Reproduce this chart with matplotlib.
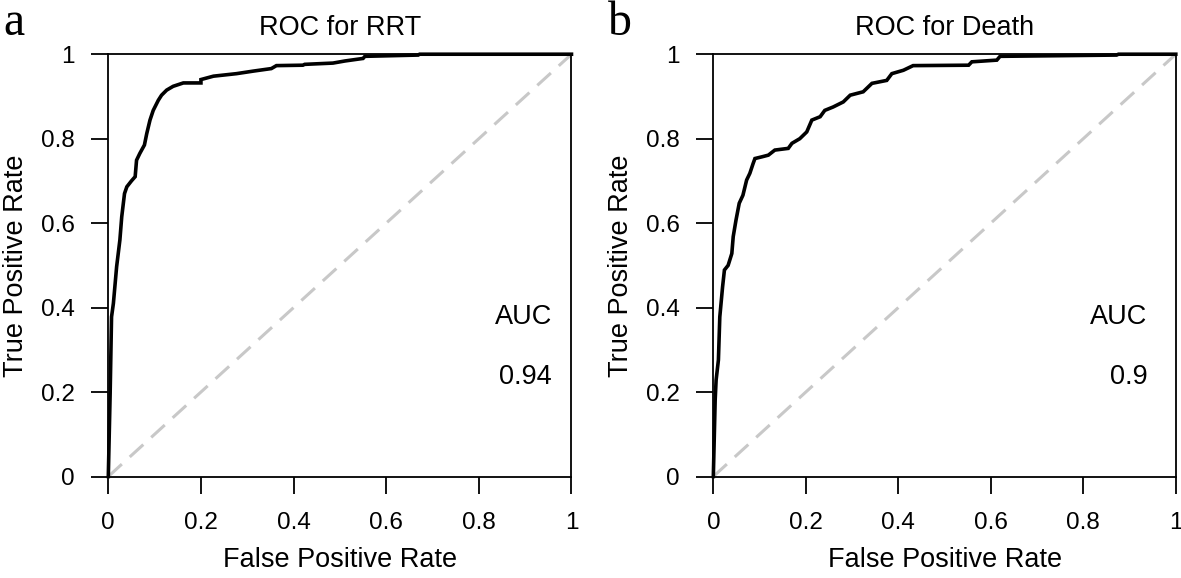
import matplotlib
matplotlib.use("Agg")
import matplotlib.pyplot as plt

plt.rcParams['font.family'] = ['Liberation Sans', 'DejaVu Sans']

# ROC for RRT
rrt_fpr = [0, 0.004, 0.007, 0.011, 0.018, 0.025, 0.029, 0.035, 0.040, 0.050, 0.058,
           0.061, 0.068, 0.078, 0.083, 0.090, 0.097, 0.108, 0.115, 0.126, 0.140,
           0.162, 0.200, 0.200, 0.227, 0.277, 0.313, 0.352, 0.363, 0.420, 0.424,
           0.485, 0.511, 0.550, 0.554, 0.669, 0.672, 1.0]
rrt_tpr = [0, 0.197, 0.378, 0.410, 0.497, 0.560, 0.615, 0.670, 0.686, 0.700, 0.710,
           0.749, 0.765, 0.785, 0.812, 0.844, 0.867, 0.891, 0.903, 0.915, 0.924,
           0.932, 0.932, 0.940, 0.948, 0.954, 0.960, 0.966, 0.973, 0.974, 0.976,
           0.979, 0.984, 0.990, 0.995, 0.998, 1.0, 1.0]

# ROC for Death
death_fpr = [0, 0.004, 0.006, 0.011, 0.014, 0.020, 0.024, 0.032, 0.040, 0.043, 0.049,
             0.056, 0.064, 0.072, 0.079, 0.086, 0.090, 0.105, 0.119, 0.133, 0.162,
             0.170, 0.187, 0.202, 0.213, 0.231, 0.241, 0.259, 0.281, 0.296, 0.324,
             0.343, 0.375, 0.386, 0.411, 0.432, 0.552, 0.559, 0.613, 0.620, 0.872,
             0.876, 1.0]
death_tpr = [0, 0.181, 0.228, 0.276, 0.378, 0.449, 0.489, 0.500, 0.528, 0.568, 0.607,
             0.647, 0.666, 0.702, 0.718, 0.741, 0.753, 0.757, 0.761, 0.773, 0.777,
             0.789, 0.800, 0.816, 0.844, 0.852, 0.867, 0.875, 0.887, 0.903, 0.911,
             0.931, 0.938, 0.954, 0.962, 0.973, 0.974, 0.982, 0.986, 0.995, 0.998,
             1.0, 1.0]

ticks = [0, 0.2, 0.4, 0.6, 0.8, 1]
tick_labels = ['0', '0.2', '0.4', '0.6', '0.8', '1']
titles = ['ROC for RRT', 'ROC for Death']
aucs = ['0.94', '0.9']
letters = ['a', 'b']

fig = plt.figure(figsize=(11.81, 5.78), dpi=100)
ax1 = fig.add_axes([0.0917, 0.1756, 0.3922, 0.7306])
ax2 = fig.add_axes([0.604, 0.1756, 0.3916, 0.7306])

panels = [(ax1, rrt_fpr, rrt_tpr), (ax2, death_fpr, death_tpr)]
auc_x = [0.958, 0.938]
for i, (ax, fpr, tpr) in enumerate(panels):
    ax.plot([0, 1], [0, 1], color='#c8c8c8', lw=2.2, dashes=(6, 3.5))
    ax.plot(fpr, tpr, color='black', lw=2.6, clip_on=False, solid_joinstyle='miter')
    ax.set_xlim(0, 1)
    ax.set_ylim(0, 1)
    ax.set_xticks(ticks)
    ax.set_xticklabels(tick_labels)
    ax.set_yticks(ticks)
    ax.set_yticklabels(tick_labels)
    ax.tick_params(direction='out', length=12, width=1.3, labelsize=17.5, colors='black')
    ax.tick_params(axis='x', pad=13.5)
    ax.tick_params(axis='y', pad=12)
    for s in ax.spines.values():
        s.set_linewidth(1.3)
    ax.set_xlabel('False Positive Rate', fontsize=19.5)
    ax.set_ylabel('True Positive Rate', fontsize=19.5)
    ax.xaxis.set_label_coords(0.5, -0.167)
    ax.yaxis.set_label_coords(-0.171, 0.5)
    ax.set_title(titles[i], fontsize=19.5, y=1.0455, pad=0)
    ax.text(auc_x[i], 0.378, 'AUC', fontsize=19.5, ha='right', va='center')
    ax.text(auc_x[i], 0.236, aucs[i], fontsize=19.5, ha='right', va='center')

fig.text(3 / 1181, 1 - 35 / 578, letters[0], fontsize=34.5, family='Liberation Serif', va='baseline')
fig.text(608 / 1181, 1 - 35 / 578, letters[1], fontsize=34.5, family='Liberation Serif', va='baseline')

fig.savefig('out.png', dpi=100)
